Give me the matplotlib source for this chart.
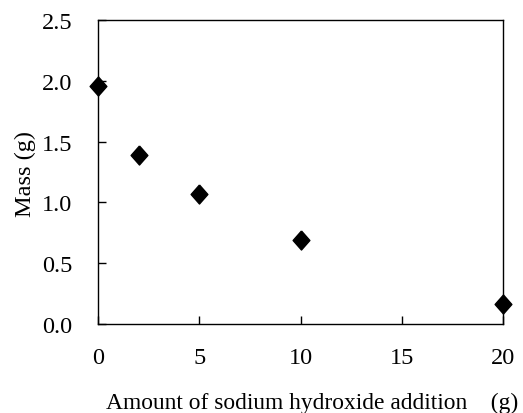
import matplotlib
matplotlib.use("Agg")
import matplotlib.pyplot as plt

naoh_added = [0, 2, 5, 10, 20]
mass = [1.955, 1.39, 1.065, 0.69, 0.165]
x_ticks = [0, 5, 10, 15, 20]
y_ticks = [0.0, 0.5, 1.0, 1.5, 2.0, 2.5]

plt.rcParams['font.family'] = ['Liberation Serif', 'Noto Sans CJK JP', 'DejaVu Sans']

FS = 17.5

fig = plt.figure(figsize=(5.23, 4.14), dpi=100)
ax = fig.add_axes([98/523, 1 - 325/414, (503-98)/523, (325-21)/414])

diamond = [(0, 1), (0.88, 0), (0, -1), (-0.88, 0), (0, 1)]
ax.plot(naoh_added, mass, linestyle='none', marker=diamond, markersize=13.7,
        color='black', clip_on=False, zorder=5)

ax.set_xlim(0, 20)
ax.set_ylim(0, 2.5)
ax.set_xticks(x_ticks)
ax.set_yticks(y_ticks)
ax.set_xticklabels([str(v) for v in x_ticks])
ax.set_yticklabels([f"{v:.1f}" for v in y_ticks])
ax.tick_params(direction='in', length=5.5, width=1, labelsize=FS, colors='black')
ax.tick_params(axis='x', pad=16.5)
ax.tick_params(axis='y', pad=18.5)
for s in ax.spines.values():
    s.set_linewidth(1)
    s.set_color('black')

fig.text(25/523, 1 - 174/414, "Mass (g)", fontsize=FS, rotation=90,
         ha='center', va='center')
fig.text(106/523, 1 - 409/414, "Amount of sodium hydroxide addition\u3000(g)",
         fontsize=16.9, ha='left', va='baseline')

fig.savefig("out.png", dpi=100)
